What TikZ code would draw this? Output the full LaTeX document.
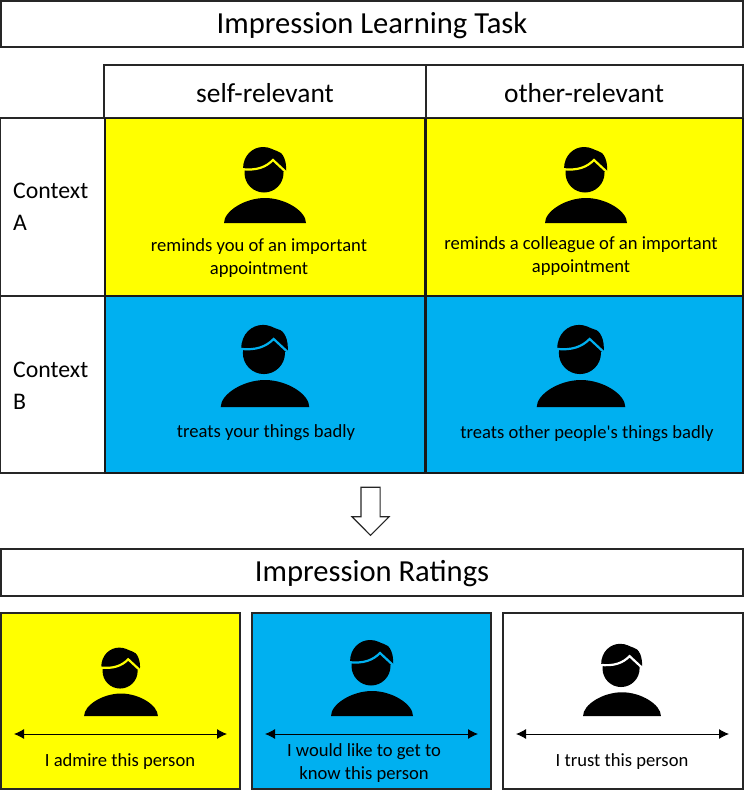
\documentclass[tikz,border=0pt]{standalone}
\usepackage{fontspec}
\setmainfont{Carlito}
\usetikzlibrary{shapes.arrows,arrows.meta}
\definecolor{cellyellow}{HTML}{FFFF00}
\definecolor{cellblue}{HTML}{00B0F0}
\tikzset{
  box/.style={draw=black!85,line width=1.1pt,minimum width=#1,inner sep=0pt},
  cell/.style={draw=black!90,line width=1.6pt,fill=#1,minimum width=320pt,minimum height=177pt,inner sep=0pt},
  rating/.style={draw=black!85,line width=1.1pt,fill=#1,minimum width=239pt,minimum height=176pt,inner sep=0pt},
  head/.style={font=\fontsize{30.6}{34}\selectfont},
  label/.style={font=\fontsize{27.4}{30}\selectfont},
  side/.style={font=\fontsize{23.8}{32}\selectfont,align=left,anchor=west,inner sep=0pt},
  small/.style={font=\fontsize{18.6}{22.5}\selectfont,align=center,inner sep=0pt},
  scale arrow/.style={{Latex[length=10pt,width=10pt]}-{Latex[length=10pt,width=10pt]},line width=.9pt},
  pics/person/.style={code={
    \fill (-41,0) .. controls (-41,-12) and (-20,-25) .. (0,-25) .. controls (20,-25) and (41,-12) .. (41,0) -- cycle;
    \fill (-1,-50) circle [radius=19.5];
    \fill (-22,-54) .. controls (-22,-68) and (-12,-76) .. (-2,-76) .. controls (5,-76) and (8,-73) .. (12,-72) .. controls (18,-71) and (22,-62) .. (21,-51) -- cycle;
    \draw[#1,line width=2.2pt] (-24,-54) .. controls (-8,-52) and (1,-56) .. (8,-63) -- (22,-50);
  }}
}
\begin{document}
\begin{tikzpicture}[x=1pt,y=-1pt]
\useasboundingbox (0,0) rectangle (744,790);
\node[box=742pt,minimum height=46pt] (title) at (372,24) {};
\node[head] (titletext) at (372,26) {Impression Learning Task};
\node[box=322pt,minimum height=53pt] (self) at (265,91.5) {};
\node[box=317pt,minimum height=53pt] (other) at (584.5,91.5) {};
\node[label] (selftext) at (265,93) {self-relevant};
\node[label] (othertext) at (584,93) {other-relevant};
\node[box=104pt,minimum height=178pt] (ctxA) at (52.5,207) {};
\node[box=104pt,minimum height=177pt] (ctxB) at (52.5,384.5) {};
\node[side] (ctxAtext) at (13,207) {Context\\A};
\node[side] (ctxBtext) at (13,386) {Context\\B};
\node[cell=cellyellow] (selfA) at (265,207) {};
\node[cell=cellyellow,minimum width=317pt] (otherA) at (584.5,207) {};
\node[cell=cellblue] (selfB) at (265,384.5) {};
\node[cell=cellblue,minimum width=317pt] (otherB) at (584.5,384.5) {};
\pic at (265,223) {person=cellyellow};
\pic at (586,223) {person=cellyellow};
\pic[scale=1.08] at (265,407) {person=cellblue};
\pic[scale=1.08] at (581,407) {person=cellblue};
\node[small] (selfAtext) at (259,258) {reminds you of an important\\appointment};
\node[small] (otherAtext) at (581,256) {reminds a colleague of an important\\appointment};
\node[small] (selfBtext) at (266,433) {treats your things badly};
\node[small] (otherBtext) at (587,434) {treats other people\textquotesingle s things badly};
\node[single arrow,draw=black!85,line width=1.1pt,rotate=-90,minimum width=36pt,minimum height=48pt,single arrow head extend=9pt,single arrow tip angle=90,inner xsep=0pt,inner ysep=9pt] (down) at (370.5,506.5) {};
\node[box=742pt,minimum height=47pt] (ratings) at (372,572.5) {};
\node[head] (ratingstext) at (372,574) {Impression Ratings};
\node[rating=cellyellow] (rateA) at (120.5,701) {};
\node[rating=cellblue] (rateB) at (371.5,701) {};
\node[rating=white,minimum width=240pt] (rateC) at (623,701) {};
\pic[scale=.9] at (121,716) {person=cellyellow};
\pic at (372,716) {person=cellblue};
\pic[scale=.95] at (622,716) {person=white};
\coordinate (aL) at (14,734);
\coordinate (aR) at (227,734);
\coordinate (bL) at (265,734);
\coordinate (bR) at (478,734);
\coordinate (cL) at (516,734);
\coordinate (cR) at (729,734);
\draw[scale arrow] (aL) -- (aR);
\draw[scale arrow] (bL) -- (bR);
\draw[scale arrow] (cL) -- (cR);
\node[small] (rateAtext) at (120,762) {I admire this person};
\node[small] (rateBtext) at (364,763) {I would like to get to\\know this person};
\node[small] (rateCtext) at (622,762) {I trust this person};
\end{tikzpicture}
\end{document}
